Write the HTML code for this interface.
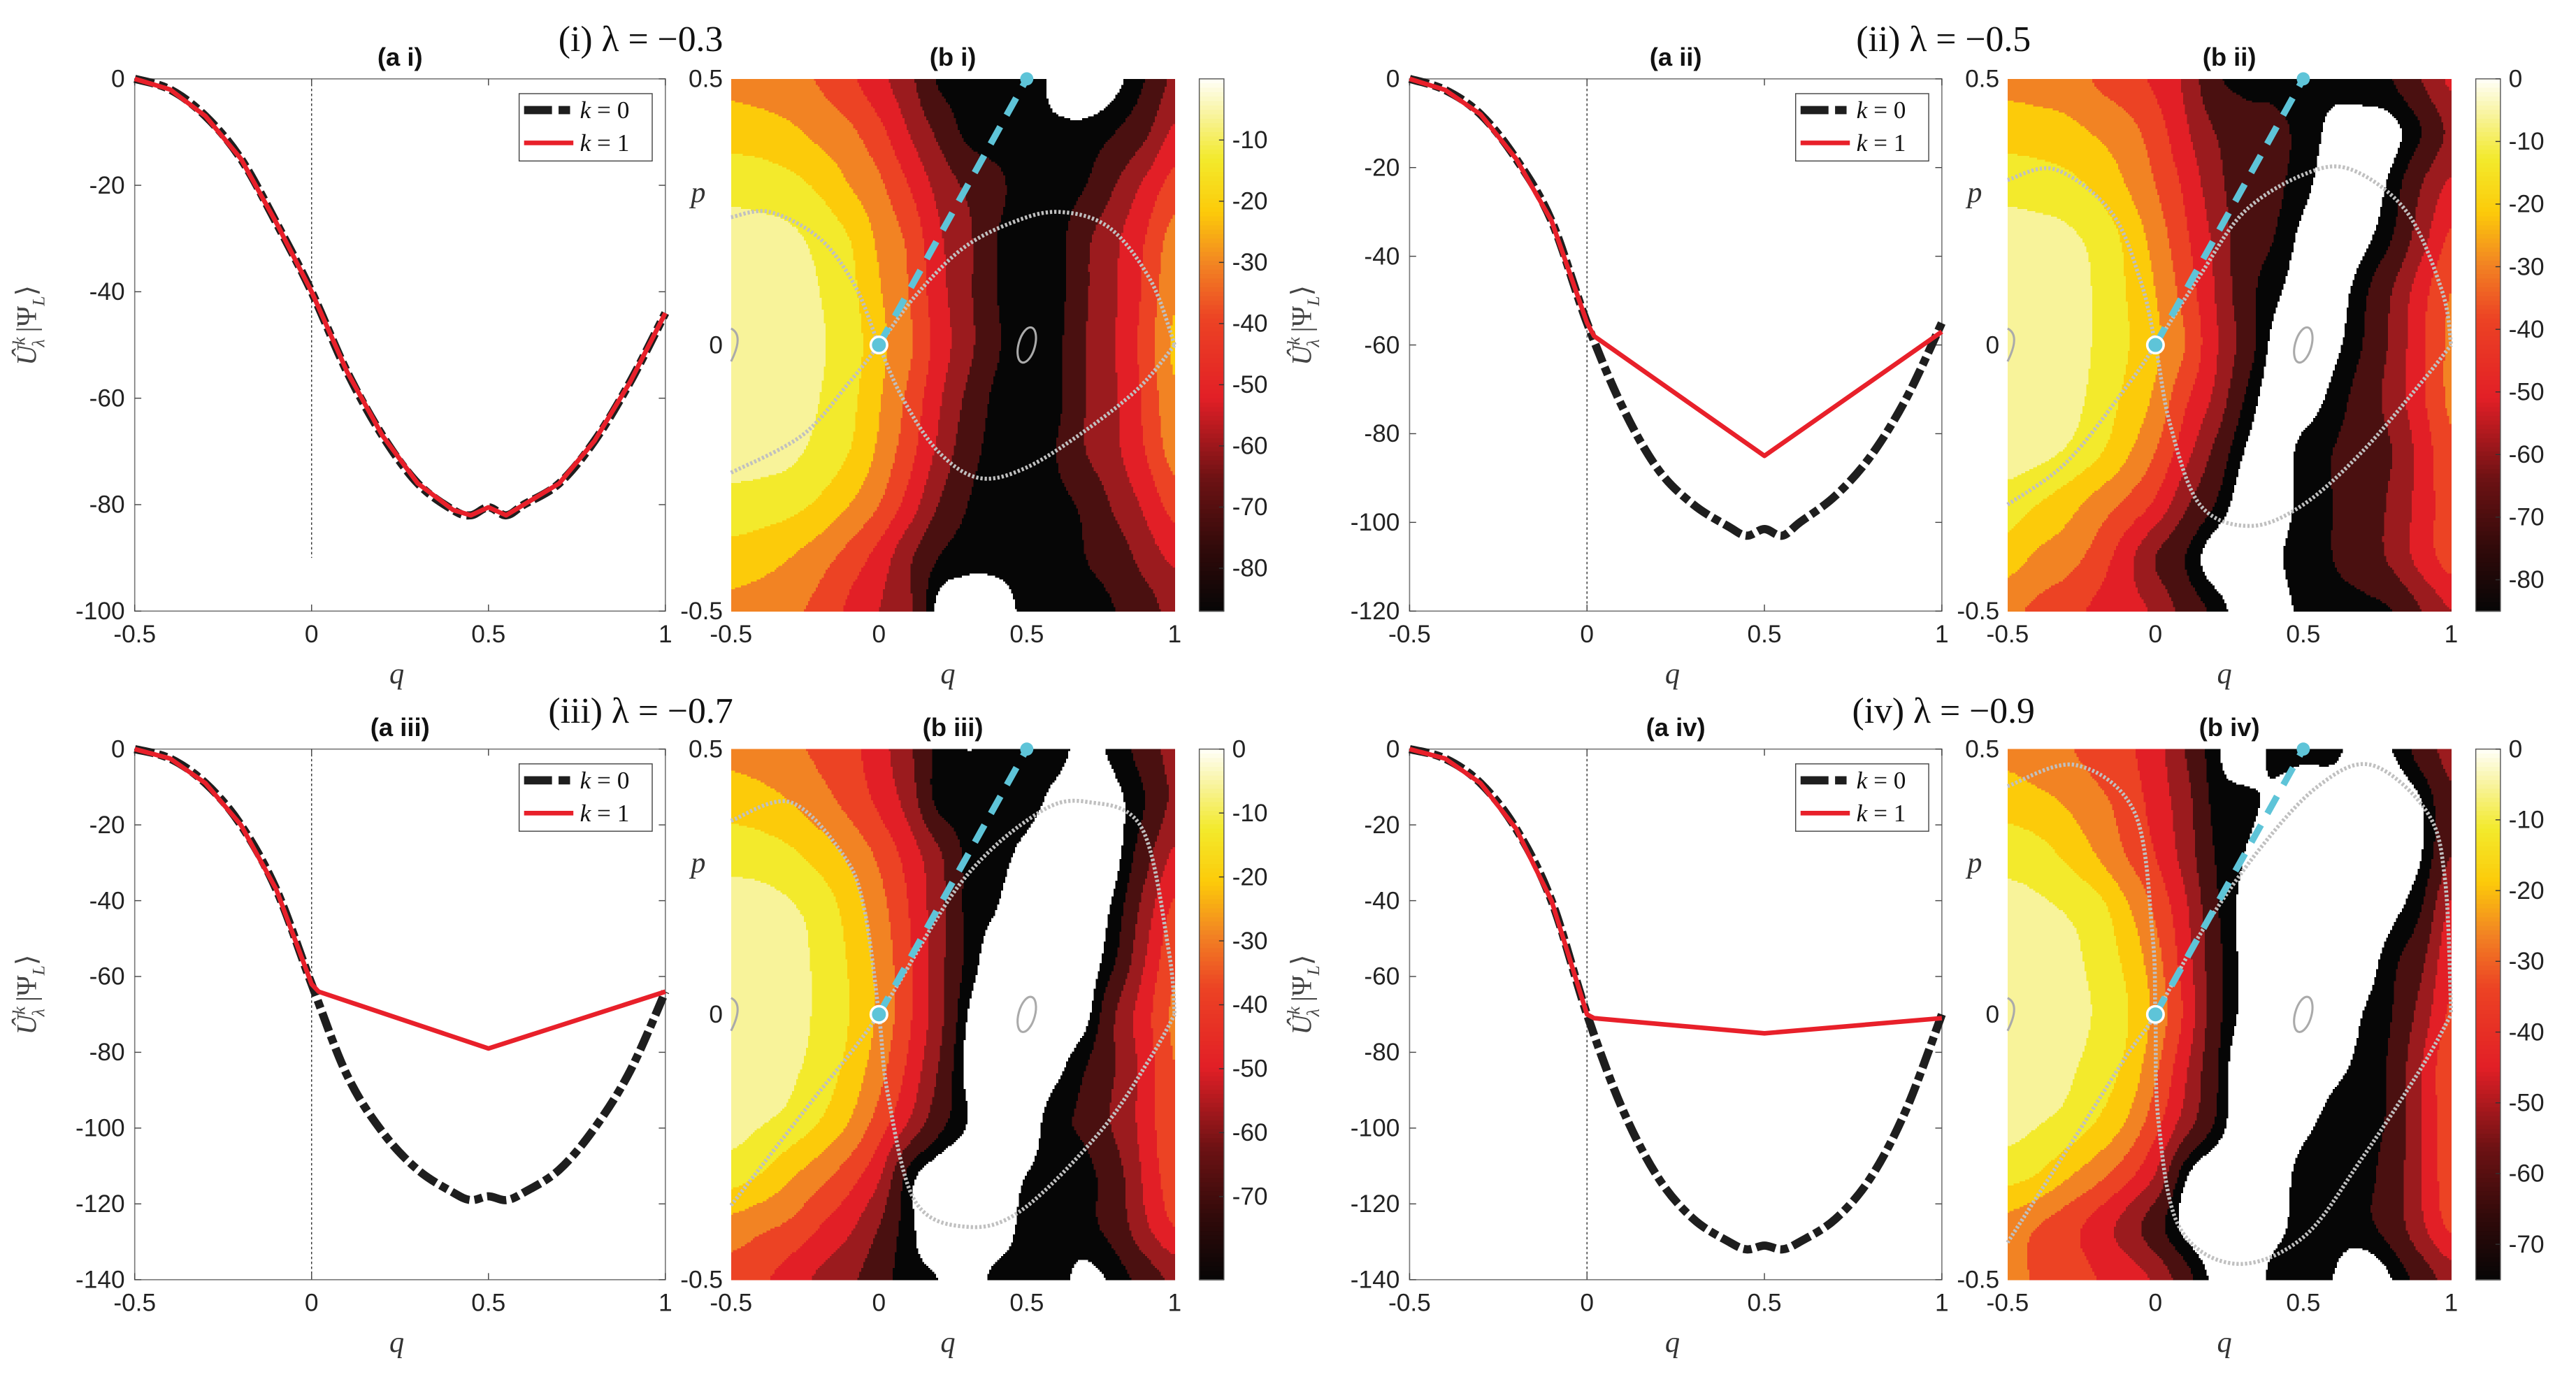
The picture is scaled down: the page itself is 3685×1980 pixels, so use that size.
<!DOCTYPE html>
<html><head><meta charset="utf-8"><title>Chart</title>
<style>
html,body{margin:0;padding:0;background:#fff;}
svg{display:block;}
text{font-family:"Liberation Sans",sans-serif;}
.serif{font-family:"Liberation Serif",serif;}
</style></head>
<body>
<svg id="fig" xmlns="http://www.w3.org/2000/svg" width="3685" height="1980" viewBox="0 0 1568 842.5" preserveAspectRatio="none"></svg>
<script>
// ---------- data ----------
const qLine = [-0.5,-0.4,-0.3,-0.2,-0.1,0,0.1,0.2,0.3,0.4,0.45,0.5,0.55,0.6,0.7,0.8,0.9,1.0];
const k0_i   = [0,-2,-7,-15,-27,-40,-55,-67,-76,-81,-82,-80.5,-82,-80,-76,-68,-57,-44];
const k1_i   = [0,-2,-7,-15,-27,-40,-55,-67,-76,-81,-82,-80.5,-82,-80,-76,-68,-57,-44];
const k0_ii  = [0,-2.5,-8,-18,-32,-55,-74,-88,-96,-101,-103,-101.5,-103,-100,-94,-85,-72,-55];
const k0_iii = [0,-2.5,-9,-20,-37,-62,-86,-101,-111,-117,-119,-118,-119,-117,-111,-100,-85,-64];
const k0_iv  = [0,-2.5,-9,-21,-40,-70,-95,-113,-124,-130,-132,-131,-132,-130,-124,-113,-95,-70];
const qK1 = [-0.5,-0.4,-0.3,-0.2,-0.1,0,0.02,0.5,1.0];
const k1_ii  = [0,-2.5,-8,-18,-32,-55,-58,-85,-57];
const k1_iii = [0,-2.5,-9,-20,-37,-62,-64,-79,-64];
const k1_iv  = [0,-2.5,-9,-21,-40,-70,-71,-75,-71];
const yTicks_i = [0,-20,-40,-60,-80,-100];
const yTicks_ii = [0,-20,-40,-60,-80,-100,-120];
const yTicks_iii = [0,-20,-40,-60,-80,-100,-120,-140];
const qTicks = [-0.5,0,0.5,1];
const pTicks = [0.5,0,-0.5];

const qGrid = [-0.5,-0.4,-0.3,-0.2,-0.1,0,0.1,0.2,0.3,0.4,0.5,0.6,0.7,0.8,0.9,1.0];
const pGrid = [0.5,0.4,0.3,0.2,0.1,0,-0.1,-0.2,-0.3,-0.4,-0.5];
const heat_i = [
[-33,-35,-37,-41,-48,-57,-67,-81,-83,-84,-83,-88,-92,-88,-80,-68],
[-24,-25,-28,-33,-38,-47,-60,-72,-82,-84,-85,-85,-84,-80,-72,-58],
[-14,-15,-17,-22,-30,-38,-50,-63,-72,-78,-84,-84,-80,-70,-58,-46],
[-5,-6,-8,-13,-20,-32,-42,-58,-68,-80,-84,-83,-72,-62,-50,-36],
[-2,-3,-6,-10,-17,-29,-40,-56,-68,-80,-84,-83,-71,-61,-48,-32],
[-2,-3,-5,-9,-15,-27,-38,-54,-67,-79,-84,-82,-70,-60,-46,-28],
[-2,-3,-6,-10,-17,-29,-42,-58,-72,-82,-84,-82,-70,-61,-48,-32],
[-5,-6,-8,-13,-20,-32,-46,-62,-76,-83,-84,-80,-70,-62,-50,-36],
[-14,-15,-17,-22,-30,-40,-54,-70,-80,-84,-83,-82,-78,-68,-58,-46],
[-24,-26,-30,-36,-44,-54,-68,-80,-84,-84,-83,-83,-80,-76,-66,-58],
[-33,-35,-38,-43,-52,-60,-68,-88,-90,-90,-84,-83,-82,-80,-75,-66]];
const heat_ii = [
[-33,-34,-35,-41,-46,-52,-62,-78,-82,-82,-84,-84,-82,-80,-70,-58],
[-24,-25,-27,-31,-36,-45,-58,-70,-76,-78,-82,-88,-90,-88,-80,-68],
[-14,-15,-17,-22,-30,-40,-52,-66,-76,-78,-84,-90,-90,-84,-70,-58],
[-5,-6,-8,-13,-22,-34,-48,-62,-76,-80,-88,-92,-88,-80,-64,-48],
[-2,-3,-6,-11,-20,-30,-44,-60,-76,-84,-90,-90,-82,-70,-54,-40],
[-2,-3,-6,-11,-19,-28,-40,-58,-74,-88,-92,-88,-80,-68,-52,-38],
[-2,-3,-6,-13,-22,-32,-48,-62,-80,-90,-90,-84,-76,-66,-52,-38],
[-5,-7,-11,-18,-28,-40,-56,-72,-86,-90,-84,-80,-76,-70,-56,-42],
[-15,-20,-26,-34,-42,-52,-68,-80,-90,-90,-84,-80,-76,-68,-56,-44],
[-25,-32,-36,-44,-56,-70,-80,-90,-92,-88,-82,-80,-76,-68,-56,-46],
[-38,-42,-46,-52,-56,-62,-74,-82,-90,-90,-84,-82,-82,-80,-70,-60]];
const heat_iii = [
[-33,-35,-38,-42,-47,-56,-68,-82,-86,-84,-84,-84,-88,-84,-76,-66],
[-24,-26,-30,-36,-43,-52,-64,-82,-84,-84,-84,-88,-92,-88,-80,-68],
[-14,-15,-18,-24,-32,-42,-54,-68,-82,-84,-88,-92,-92,-88,-74,-58],
[-5,-6,-9,-14,-24,-36,-50,-66,-82,-86,-92,-92,-90,-84,-66,-48],
[-2,-3,-7,-12,-21,-33,-48,-66,-82,-90,-92,-92,-90,-80,-60,-42],
[-2,-3,-6,-12,-20,-32,-48,-66,-86,-92,-92,-92,-88,-70,-54,-38],
[-3,-4,-8,-14,-23,-36,-52,-70,-88,-92,-92,-88,-80,-70,-56,-40],
[-6,-9,-13,-20,-30,-44,-60,-76,-86,-92,-90,-82,-78,-68,-56,-40],
[-15,-20,-28,-36,-45,-58,-82,-90,-92,-90,-86,-84,-82,-74,-58,-44],
[-34,-38,-42,-50,-58,-70,-84,-90,-92,-90,-84,-84,-82,-76,-62,-50],
[-44,-48,-55,-62,-68,-76,-84,-86,-90,-84,-84,-84,-88,-84,-76,-68]];
const heat_iv = [
[-33,-36,-39,-44,-48,-56,-70,-84,-92,-84,-84,-84,-90,-86,-76,-66],
[-24,-27,-31,-37,-44,-54,-66,-82,-84,-88,-92,-92,-92,-92,-86,-72],
[-14,-16,-22,-30,-40,-50,-64,-80,-86,-92,-92,-92,-92,-90,-86,-70],
[-6,-8,-11,-16,-28,-42,-58,-78,-88,-92,-92,-92,-92,-88,-80,-58],
[-3,-4,-7,-13,-22,-36,-55,-76,-88,-92,-92,-92,-90,-82,-72,-52],
[-2,-3,-6,-11,-19,-33,-52,-76,-88,-92,-92,-92,-86,-80,-66,-48],
[-3,-4,-8,-14,-22,-38,-58,-78,-92,-92,-92,-88,-84,-78,-60,-42],
[-6,-9,-13,-20,-30,-46,-64,-80,-92,-92,-88,-84,-82,-78,-60,-44],
[-16,-20,-28,-36,-46,-60,-84,-92,-92,-90,-84,-84,-82,-76,-60,-44],
[-34,-40,-46,-54,-64,-76,-88,-92,-92,-88,-84,-84,-82,-76,-62,-48],
[-38,-41,-44,-50,-54,-62,-76,-88,-92,-84,-84,-86,-92,-86,-76,-66]];
const cbMin = [-87,-85,-83,-75];
const cbTicks_i = [-10,-20,-30,-40,-50,-60,-70,-80];
const cbTicks_ii = [0,-10,-20,-30,-40,-50,-60,-70,-80];
const cbTicks_iii = [0,-10,-20,-30,-40,-50,-60,-70];

const sepA_i_q=[-0.5,-0.37,-0.2,-0.08,0,0.08,0.2,0.34,0.5,0.7,0.88,1.0];
const sepA_i_p=[0.24,0.25,0.2,0.11,0,-0.1,-0.2,-0.25,-0.23,-0.16,-0.08,0];
const sepB_i_q=[-0.5,-0.26,-0.1,0,0.12,0.28,0.45,0.61,0.78,0.92,1.0];
const sepB_i_p=[-0.24,-0.17,-0.07,0,0.09,0.18,0.23,0.25,0.22,0.12,0];
const sepA_ii_q=[-0.5,-0.34,-0.15,-0.05,0,0.05,0.15,0.32,0.5,0.7,0.9,1.0];
const sepA_ii_p=[0.31,0.33,0.25,0.12,0,-0.15,-0.3,-0.34,-0.3,-0.2,-0.07,0];
const sepB_ii_q=[-0.5,-0.3,-0.1,0,0.15,0.3,0.5,0.66,0.85,0.97,1.0];
const sepB_ii_p=[-0.3,-0.22,-0.08,0,0.13,0.25,0.32,0.33,0.25,0.1,0];
const sepA_iii_q=[-0.5,-0.3,-0.12,-0.05,0,0.03,0.12,0.29,0.48,0.75,0.92,1.0];
const sepA_iii_p=[0.365,0.4,0.3,0.2,0,-0.15,-0.35,-0.4,-0.37,-0.22,-0.08,0];
const sepB_iii_q=[-0.5,-0.25,0,0.28,0.54,0.71,0.89,0.98,1.0];
const sepB_iii_p=[-0.36,-0.18,0,0.25,0.38,0.4,0.35,0.12,0];
const sepA_iv_q=[-0.5,-0.27,-0.07,-0.01,0,0.01,0.08,0.27,0.5,0.7,0.9,1.0];
const sepA_iv_p=[0.43,0.47,0.38,0.15,0,-0.2,-0.4,-0.47,-0.42,-0.27,-0.1,0];
const sepB_iv_q=[-0.5,-0.27,-0.1,0,0.15,0.35,0.55,0.73,0.92,0.98,1.0];
const sepB_iv_p=[-0.43,-0.23,-0.08,0,0.15,0.31,0.43,0.47,0.38,0.25,0];

// ---------- helpers ----------
const NS='http://www.w3.org/2000/svg';
const svg=document.getElementById('fig');
function mk(tag, attrs, parent, name, inter){
  const e=document.createElementNS(NS,tag);
  for(const k in attrs) e.setAttribute(k,attrs[k]);
  
  
  (parent||svg).appendChild(e);
  return e;
}
function txt(x,y,s,attrs,name,parent){
  const t=mk('text',Object.assign({x:x,y:y},attrs||{}),parent,name,false);
  t.textContent=s; return t;
}
const bandColors=['#f8f39a','#f3ea2c','#fccb0a','#f28323','#ec4324','#e21f26','#9b1b1e','#4a1010','#060606'];
const stops=[[0,[6,6,6]],[0.12,[50,10,10]],[0.25,[110,18,20]],[0.4,[226,31,38]],[0.55,[236,67,36]],[0.65,[242,131,35]],[0.75,[252,203,10]],[0.85,[243,234,44]],[0.93,[248,243,154]],[1,[255,255,250]]];
function cmap(t){
  t=Math.max(0,Math.min(1,t));
  for(let i=1;i<stops.length;i++){
    if(t<=stops[i][0]){
      const a=stops[i-1],b=stops[i],f=(t-a[0])/(b[0]-a[0]);
      return 'rgb('+a[1].map((c,j)=>Math.round(c+(b[1][j]-c)*f)).join(',')+')';
    }
  }
  return 'rgb(255,255,250)';
}
function fmt(v){ return (v<0?'-':'')+String(Math.abs(v)); }
function smoothPath(pts){
  let d='M'+pts[0][0]+','+pts[0][1];
  for(let i=0;i<pts.length-1;i++){
    const p0=pts[Math.max(0,i-1)],p1=pts[i],p2=pts[i+1],p3=pts[Math.min(pts.length-1,i+2)];
    const c1=[p1[0]+(p2[0]-p0[0])/6,p1[1]+(p2[1]-p0[1])/6];
    const c2=[p2[0]-(p3[0]-p1[0])/6,p2[1]-(p3[1]-p1[1])/6];
    d+=' C'+c1[0]+','+c1[1]+' '+c2[0]+','+c2[1]+' '+p2[0]+','+p2[1];
  }
  return d;
}
function cr(a,b,c,d,t){ return b+0.5*t*(c-a+t*(2*a-5*b+4*c-d+t*(3*(b-c)+d-a))); }

// ---------- line panel ----------
function linePanel(x0,y0,w,h,ymin,yTicks,title,k0,qk1,k1,vlineTo,id){
  const g=mk('g',{},svg,'line-panel-'+id,false);
  const sx=q=>x0+(q+0.5)/1.5*w;
  const sy=v=>y0+(0-v)/(0-ymin)*h;
  mk('rect',{x:x0,y:y0,width:w,height:h,fill:'#fff',stroke:'#7a7a7a','stroke-width':0.7},g,'plot-area-'+id,false);
  mk('line',{x1:sx(0),y1:y0,x2:sx(0),y2:sy(vlineTo),stroke:'#333','stroke-width':0.6,'stroke-dasharray':'1.5 1.5'},g,'zero-q-line',false);
  qTicks.forEach(q=>{
    mk('line',{x1:sx(q),y1:y0+h,x2:sx(q),y2:y0+h-4,stroke:'#444','stroke-width':0.6},g,'x-tick',false);
    mk('line',{x1:sx(q),y1:y0,x2:sx(q),y2:y0+4,stroke:'#444','stroke-width':0.6},g,'x-tick-top',false);
    txt(sx(q),y0+h+19,fmt(q),{'text-anchor':'middle','font-size':15,fill:'#222'},'x-tick-label',g);
  });
  yTicks.forEach(v=>{
    mk('line',{x1:x0,y1:sy(v),x2:x0+4,y2:sy(v),stroke:'#444','stroke-width':0.6},g,'y-tick',false);
    mk('line',{x1:x0+w,y1:sy(v),x2:x0+w-4,y2:sy(v),stroke:'#444','stroke-width':0.6},g,'y-tick-right',false);
    txt(x0-6,sy(v)+5,fmt(v),{'text-anchor':'end','font-size':15,fill:'#222'},'y-tick-label',g);
  });
  const p0=qLine.map((q,i)=>[sx(q),sy(k0[i])]);
  mk('path',{d:smoothPath(p0),fill:'none',stroke:'#1e1e1e','stroke-width':5,'stroke-dasharray':'12 3 5 3','stroke-linejoin':'round'},g,'series-k0',false);
  const p1=qk1.map((q,i)=>sx(q)+','+sy(k1[i])).join(' ');
  mk('polyline',{points:p1,fill:'none',stroke:'#e8202a','stroke-width':2.8,'stroke-linejoin':'round'},g,'series-k1',false);
  const lg=mk('g',{},g,'legend',false);
  mk('rect',{x:x0+w-89,y:y0+9,width:81,height:41,fill:'#fff',stroke:'#444','stroke-width':0.6},lg,'legend-box',false);
  mk('line',{x1:x0+w-86,y1:y0+19,x2:x0+w-56,y2:y0+19,stroke:'#1e1e1e','stroke-width':5,'stroke-dasharray':'17 4 7 4'},lg,'legend-k0-swatch',false);
  mk('line',{x1:x0+w-86,y1:y0+39,x2:x0+w-56,y2:y0+39,stroke:'#e8202a','stroke-width':2.8},lg,'legend-k1-swatch',false);
  const l0=txt(x0+w-52,y0+24,'',{'font-size':15,class:'serif',fill:'#111'},'legend-k0-label',lg);
  l0.innerHTML='<tspan font-style="italic">k</tspan> = 0';
  const l1=txt(x0+w-52,y0+44,'',{'font-size':15,class:'serif',fill:'#111'},'legend-k1-label',lg);
  l1.innerHTML='<tspan font-style="italic">k</tspan> = 1';
  txt(x0+w/2,y0-8,title,{'text-anchor':'middle','font-size':15.5,'font-weight':'bold',fill:'#111'},'panel-title',g);
  txt(x0+w/2-2,y0+h+44,'q',{'text-anchor':'middle','font-size':18,'font-style':'italic',class:'serif',fill:'#333'},'x-axis-title',g);
  const yl=mk('text',{x:0,y:0,'text-anchor':'middle','font-size':17,class:'serif',fill:'#444',transform:'translate('+(x0-60)+','+(y0+h/2-12)+') rotate(-90)'},g,'y-axis-title',false);
  yl.innerHTML='<tspan font-style="italic">Û</tspan><tspan font-size="11" dy="-7" font-style="italic">k</tspan><tspan font-size="11" dy="12" dx="-6" font-style="italic">λ</tspan><tspan dy="-5"> |Ψ</tspan><tspan font-size="11" dy="5" font-style="italic">L</tspan><tspan dy="-5">⟩</tspan>';
}

// ---------- heatmap panel ----------
function heatPanel(x0,y0,w,h,heat,cmin,cbTicks,title,sA_q,sA_p,sB_q,sB_p,id){
  const g=mk('g',{},svg,'heatmap-panel-'+id,false);
  const sx=q=>x0+(q+0.5)/1.5*w;
  const sy=p=>y0+(0.5-p)*h;
  const nc=qGrid.length,nr=pGrid.length;
  const at=(j,i)=>heat[Math.max(0,Math.min(nr-1,j))][Math.max(0,Math.min(nc-1,i))];
  const val=(q,p)=>{
    let gx=(q-qGrid[0])/(qGrid[1]-qGrid[0]); let gy=(pGrid[0]-p)/(pGrid[0]-pGrid[1]);
    gx=Math.max(0,Math.min(nc-1.0001,gx)); gy=Math.max(0,Math.min(nr-1.0001,gy));
    const i=Math.floor(gx),j=Math.floor(gy),fx=gx-i,fy=gy-j;
    const rows=[];
    for(let dj=-1;dj<=2;dj++) rows.push(cr(at(j+dj,i-1),at(j+dj,i),at(j+dj,i+1),at(j+dj,i+2),fx));
    return cr(rows[0],rows[1],rows[2],rows[3],fy);
  };
  const colorOf=v=>{
    if(v<-86) return '#ffffff';
    let idx=Math.floor(-v/10); if(idx<0) idx=0; if(idx>8) idx=8;
    return bandColors[idx];
  };
  const NX=225, NY=270;
  const cw0=w/NX, ch0=h/NY;
  const hg=mk('g',{'shape-rendering':'crispEdges'},g,'heatmap-cells',false);
  for(let iy=0;iy<NY;iy++){
    const p=0.5-(iy+0.5)/NY;
    let runStart=0,runCol=null;
    for(let ix=0;ix<=NX;ix++){
      let col=null;
      if(ix<NX){ const q=-0.5+(ix+0.5)/NX*1.5; col=colorOf(val(q,p)); }
      if(col!==runCol){
        if(runCol!==null){
          const r=document.createElementNS(NS,'rect');
          r.setAttribute('x',x0+runStart*cw0); r.setAttribute('y',y0+iy*ch0);
          r.setAttribute('width',(ix-runStart)*cw0+0.3); r.setAttribute('height',ch0+0.3);
          r.setAttribute('fill',runCol);
          
          
          hg.appendChild(r);
        }
        runStart=ix; runCol=col;
      }
    }
  }
  mk('path',{d:smoothPath(sA_q.map((q,i)=>[sx(q),sy(sA_p[i])])),fill:'none',stroke:'#c0c0c0','stroke-width':2.4,'stroke-dasharray':'1.4 1.2'},g,'separatrix-a',false);
  mk('path',{d:smoothPath(sB_q.map((q,i)=>[sx(q),sy(sB_p[i])])),fill:'none',stroke:'#c0c0c0','stroke-width':2.4,'stroke-dasharray':'1.4 1.2'},g,'separatrix-b',false);
  mk('ellipse',{cx:sx(0.5),cy:sy(0),rx:5,ry:11,fill:'none',stroke:'#aaa','stroke-width':1.3,transform:'rotate(15 '+sx(0.5)+' '+sy(0)+')'},g,'center-orbit',false);
  mk('path',{d:'M'+x0+','+(sy(0)-10)+' q8,4 0,20',fill:'none',stroke:'#aaa','stroke-width':1.3},g,'edge-orbit',false);
  mk('line',{x1:sx(0),y1:sy(0),x2:sx(0.5),y2:sy(0.5),stroke:'#5ec4d8','stroke-width':4,'stroke-dasharray':'12 8'},g,'trajectory-line',false);
  mk('circle',{cx:sx(0),cy:sy(0),r:5,fill:'#5ec4d8',stroke:'#fff','stroke-width':1.5},g,'start-point',false);
  mk('circle',{cx:sx(0.5),cy:sy(0.5),r:4,fill:'#5ec4d8'},g,'end-point',false);
  qTicks.forEach(q=>txt(sx(q),y0+h+19,fmt(q),{'text-anchor':'middle','font-size':15,fill:'#222'},'x-tick-label',g));
  pTicks.forEach(p=>txt(x0-5,sy(p)+5,fmt(p),{'text-anchor':'end','font-size':15,fill:'#222'},'y-tick-label',g));
  txt(x0+w/2-3,y0+h+44,'q',{'text-anchor':'middle','font-size':18,'font-style':'italic',class:'serif',fill:'#333'},'x-axis-title',g);
  txt(x0-20,y0+75,'p',{'text-anchor':'middle','font-size':18,'font-style':'italic',class:'serif',fill:'#333'},'y-axis-title',g);
  txt(x0+w/2,y0-8,title,{'text-anchor':'middle','font-size':15.5,'font-weight':'bold',fill:'#111'},'panel-title',g);
  const cx=x0+w+15, cw=15;
  const cb=mk('g',{},g,'colorbar',false);
  const n=120;
  for(let i=0;i<n;i++){
    const t=1-(i+0.5)/n;
    const r=document.createElementNS(NS,'rect');
    r.setAttribute('x',cx); r.setAttribute('y',y0+i*h/n); r.setAttribute('width',cw); r.setAttribute('height',h/n+0.4);
    r.setAttribute('fill',cmap(t));
    
    
    cb.appendChild(r);
  }
  mk('rect',{x:cx,y:y0,width:cw,height:h,fill:'none',stroke:'#555','stroke-width':0.6},cb,'colorbar-frame',false);
  cbTicks.forEach(v=>{
    const yy=y0+(v/cmin)*h;
    mk('line',{x1:cx+cw-3,y1:yy,x2:cx+cw,y2:yy,stroke:'#333','stroke-width':0.6},cb,'colorbar-tick',false);
    txt(cx+cw+5,yy+5,fmt(v),{'font-size':15,fill:'#222'},'colorbar-tick-label',cb);
  });
}

// ---------- build ----------
const heads=[[390,31,'(i) λ = −0.3'],[1183,31,'(ii) λ = −0.5'],[390,440,'(iii) λ = −0.7'],[1183,440,'(iv) λ = −0.9']];
heads.forEach(hd=>txt(hd[0],hd[1],hd[2],{'text-anchor':'middle','font-size':22,class:'serif',fill:'#111'},'row-heading'));

linePanel(82,48,323,324,-100,yTicks_i,'(a i)',k0_i,qLine,k1_i,-90,'a-i');
heatPanel(445,48,270,324,heat_i,cbMin[0],cbTicks_i,'(b i)',sepA_i_q,sepA_i_p,sepB_i_q,sepB_i_p,'b-i');
linePanel(858,48,324,324,-120,yTicks_ii,'(a ii)',k0_ii,qK1,k1_ii,-120,'a-ii');
heatPanel(1222,48,270,324,heat_ii,cbMin[1],cbTicks_ii,'(b ii)',sepA_ii_q,sepA_ii_p,sepB_ii_q,sepB_ii_p,'b-ii');
linePanel(82,456,323,323,-140,yTicks_iii,'(a iii)',k0_iii,qK1,k1_iii,-140,'a-iii');
heatPanel(445,456,270,323,heat_iii,cbMin[2],cbTicks_iii,'(b iii)',sepA_iii_q,sepA_iii_p,sepB_iii_q,sepB_iii_p,'b-iii');
linePanel(858,456,324,323,-140,yTicks_iii,'(a iv)',k0_iv,qK1,k1_iv,-140,'a-iv');
heatPanel(1222,456,270,323,heat_iv,cbMin[3],cbTicks_iii,'(b iv)',sepA_iv_q,sepA_iv_p,sepB_iv_q,sepB_iv_p,'b-iv');
</script>
</body></html>
